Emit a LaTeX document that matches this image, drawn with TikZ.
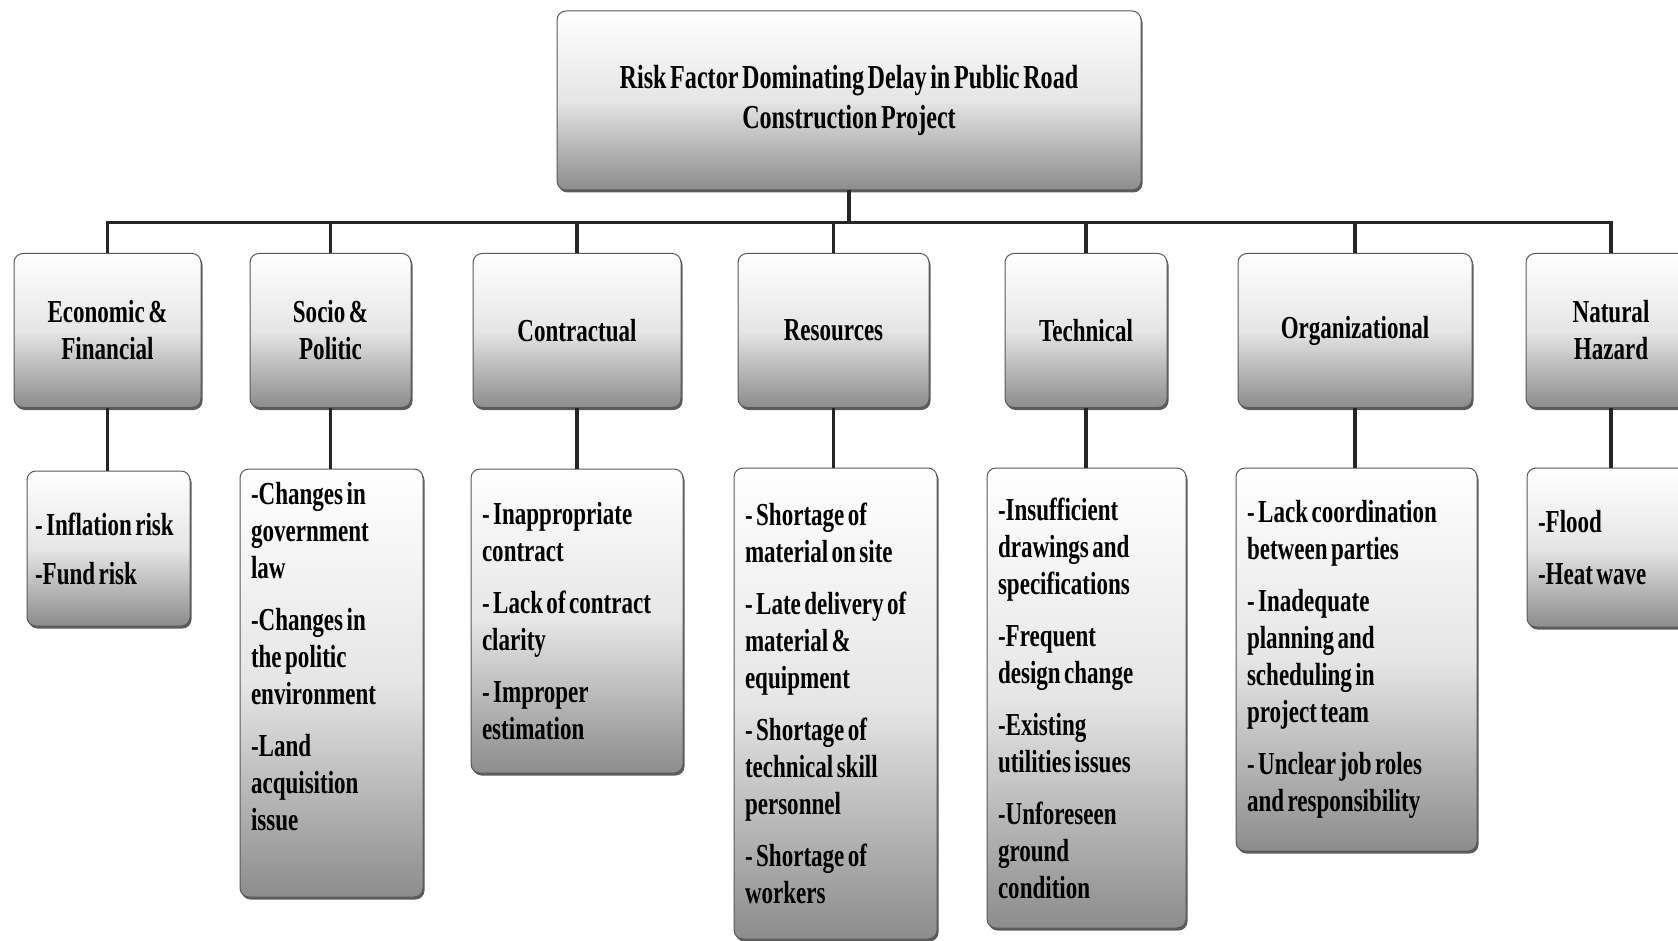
\documentclass[tikz,border=0pt]{standalone}
\usepackage{fontspec}
\setmainfont{Liberation Serif}[FakeStretch=0.72,WordSpace=0.6]
\usetikzlibrary{shadows}
\hyphenpenalty=10000
\exhyphenpenalty=10000

\begin{document}
\begin{tikzpicture}[x=1pt,y=1pt,
  box/.style={draw=black!65,line width=1pt,rounded corners=9pt,
    top color=white,bottom color=black!45,middle color=black!10,
    drop shadow={shadow xshift=1.5pt,shadow yshift=-2.5pt,opacity=.85,fill=black!75},
    font=\bfseries\fontsize{32}{37}\selectfont,inner sep=0pt},
  head/.style={box,align=center},
  list/.style={box,align=flush left,inner xsep=11pt},
  link/.style={line width=3.5pt,black!85}]
% Page frame, the last column runs off the right edge
\useasboundingbox (0,0) rectangle (1678,-941);
\clip (0,0) rectangle (1678,-941);
% Main heading
\node[head,minimum width=584pt,minimum height=179pt,
  font=\bfseries\fontsize{33.5}{40}\selectfont] (top) at (849,-100.5)
  {Risk Factor Dominating Delay in Public Road\\Construction Project};
% Risk groups
\node[head,minimum width=187pt,minimum height=154pt] (econ) at (107.5,-330.5) {Economic \&\\Financial};
\node[head,minimum width=161pt,minimum height=154pt] (socio) at (330.5,-330.5) {Socio \&\\Politic};
\node[head,minimum width=208pt,minimum height=154pt] (contr) at (577,-330.5) {Contractual};
\node[head,minimum width=191pt,minimum height=154pt] (resrc) at (833.5,-330.5) {Resources};
\node[head,minimum width=162pt,minimum height=154pt] (techn) at (1086,-330.5) {Technical};
\node[head,minimum width=234pt,minimum height=154pt] (organ) at (1355,-330.5) {Organizational};
\node[head,minimum width=170pt,minimum height=154pt] (natur) at (1611,-330.5) {Natural\\Hazard};
% Risk items under each group
\node[list,inner xsep=8pt,text width=147pt,minimum height=155pt] (econ-items) at (108.5,-548.5)
  {- Inflation risk\\[12pt]-Fund risk};
\node[list,text width=161pt,minimum height=428pt] (socio-items) at (331.5,-683)
  {-Changes in\\government\\law\\[15pt]-Changes in\\the politic\\environment\\[15pt]-Land\\acquisition\\issue\\[17pt]\mbox{}};
\node[list,text width=190pt,minimum height=304pt] (contr-items) at (577,-621)
  {- Inappropriate\\contract\\[15pt]- Lack of contract\\clarity\\[15pt]- Improper\\estimation};
\node[list,text width=181pt,minimum height=471pt] (resrc-items) at (835.5,-703.5)
  {- Shortage of\\material on site\\[15pt]- Late delivery of\\material \&\\equipment\\[15pt]- Shortage of\\technical skill\\personnel\\[15pt]- Shortage of\\workers};
\node[list,text width=177pt,minimum height=460pt] (techn-items) at (1086.5,-698)
  {-Insufficient\\drawings and\\specifications\\[15pt]-Frequent\\design change\\[15pt]-Existing\\utilities issues\\[15pt]-Unforeseen\\ground\\condition};
\node[list,text width=219pt,minimum height=383pt] (organ-items) at (1356.5,-659.5)
  {- Lack coordination\\between parties\\[15pt]- Inadequate\\planning and\\scheduling in\\project team\\[15pt]- Unclear job roles\\and responsibility};
\node[list,text width=148pt,minimum height=159pt] (natur-items) at (1612,-547.5)
  {-Flood\\[15pt]-Heat wave};
% Bus from the heading to the groups
\coordinate (bus) at ([yshift=-32pt]top.south);
\draw[link] (top.south) -- (bus);
\draw[link] (econ.north) |- (bus) -| (natur.north);
\foreach \n in {socio,contr,resrc,techn,organ}
  \draw[link] (\n.north) -- (\n.north |- bus);
% Each group down to its items
\foreach \n in {econ,socio,contr,resrc,techn,organ,natur}
  \draw[link] (\n.south) -- (\n.south |- \n-items.north);
\end{tikzpicture}
\end{document}
